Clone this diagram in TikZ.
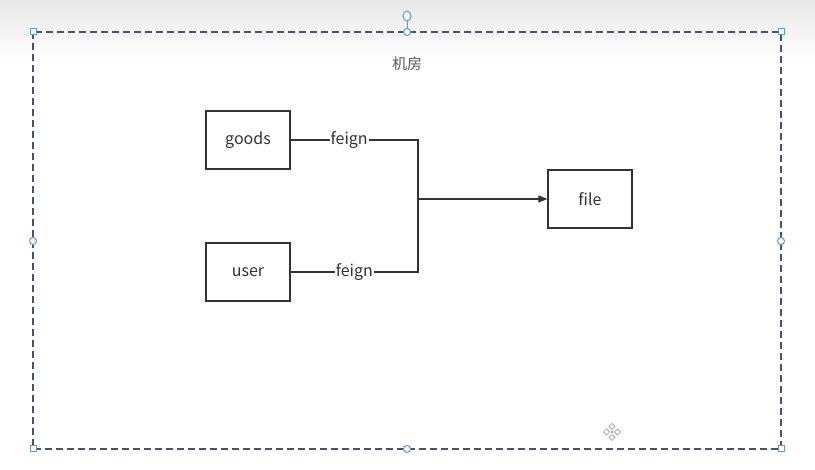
\documentclass[tikz,border=0pt]{standalone}
\usepackage{fontspec}
\setmainfont{Noto Sans CJK SC}
\usetikzlibrary{arrows.meta,shapes.geometric}
\definecolor{frame}{HTML}{46536B}
\definecolor{handle}{HTML}{5B9BD5}
\definecolor{ink}{HTML}{333333}
\tikzset{
  px/.style={x=1pt,y=-1pt},
  box/.style={draw=ink,line width=1.2pt,minimum width=84pt,minimum height=58pt,inner sep=0pt,font=\fontsize{16}{19}\selectfont,text=ink},
  wire/.style={draw=ink,line width=1.2pt},
  lbl/.style={fill=white,inner sep=1pt,font=\fontsize{16}{19}\selectfont,text=ink},
  cornerh/.style={draw=handle,fill=white,line width=1pt,minimum size=6pt,inner sep=0pt,rectangle},
  sideh/.style={draw=handle,fill=white,line width=1pt,minimum size=7pt,inner sep=0pt,circle},
  movepart/.style={draw=gray!80,line width=0.7pt,fill=white}
}
\begin{document}
\begin{tikzpicture}[px]
\useasboundingbox (0,0) rectangle (815,470);
\fill[white] (0,0) rectangle (815,470);
\shade[top color=black!9,bottom color=white] (0,0) rectangle (815,60);
% container
\draw[frame,line width=1.3pt,dash pattern=on 7pt off 4pt] (33,32) rectangle (781,449);
\node[text=black!65,font=\fontsize{15}{18}\selectfont] (title) at (407,64) {机房};
% boxes
\node[box] (goods) at (248,140) {goods};
\node[box] (user) at (248,272) {user};
\node[box] (file) at (590,199) {file};
\coordinate (j) at (418,199);
\draw[wire,-{Triangle[length=9pt,width=7pt]}] (goods.east) -- node[lbl,pos=0.46]{feign} (j |- goods.east) -- (j) -- (file.west);
\draw[wire] (user.east) -- node[lbl,pos=0.5]{feign} (j |- user.east) -- (j);
% selection handles
\coordinate (rot) at (407,16);
\draw[handle,line width=1pt] (rot) -- (407,32);
\node[draw=handle,fill=white,line width=1pt,ellipse,minimum width=8pt,minimum height=10pt,inner sep=0pt] (rh) at (rot) {};
\foreach \p/\n in {{33,32}/a,{781,32}/b,{33,449}/c,{781,449}/d}
  \node[cornerh] (h\n) at (\p) {};
\foreach \p/\n in {{407,32}/e,{33,241}/f,{781,241}/g,{407,449}/h}
  \node[sideh] (h\n) at (\p) {};
% move icon
\begin{scope}[shift={(612,432)}]
  \foreach \dx/\dy in {0/-5.5,0/5.5,-5.5/0,5.5/0}
    \draw[movepart] (\dx-3,\dy) -- (\dx,\dy-3) -- (\dx+3,\dy) -- (\dx,\dy+3) -- cycle;
  \fill[gray!70] (0,0) circle (1.5pt);
\end{scope}
\end{tikzpicture}
\end{document}
